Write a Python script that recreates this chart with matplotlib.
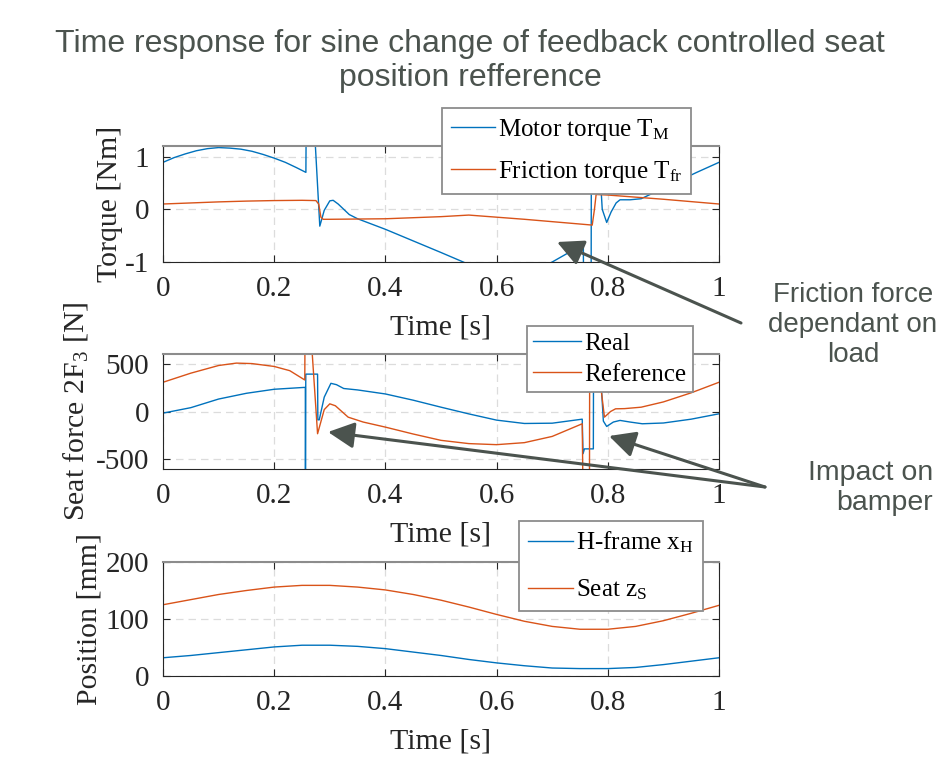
import matplotlib
matplotlib.use("Agg")
import matplotlib.pyplot as plt
from matplotlib.patches import FancyArrowPatch

W, H = 941, 760

# ---- data ----
x_ticks = [0, 0.2, 0.4, 0.6, 0.8, 1]
x_tick_labels = ["0", "0.2", "0.4", "0.6", "0.8", "1"]

# torque [Nm]
t_motor = [0, 0.02, 0.04, 0.06, 0.08, 0.10, 0.12, 0.14, 0.16, 0.18, 0.20, 0.22, 0.24, 0.257,
           0.2575, 0.272, 0.282, 0.290, 0.300, 0.306, 0.315, 0.325, 0.335, 0.35, 0.40, 0.45,
           0.50, 0.54, 0.56, 0.68, 0.70, 0.73, 0.756, 0.7565, 0.770, 0.7705, 0.781, 0.790,
           0.798, 0.806, 0.815, 0.822, 0.84, 0.86, 0.88, 0.90, 0.93, 0.96, 1.0]
motor_torque = [0.89, 0.98, 1.05, 1.11, 1.15, 1.17, 1.16, 1.14, 1.10, 1.04, 0.97, 0.89, 0.79, 0.70,
                1.6, 1.6, -0.32, -0.02, 0.16, 0.17, 0.10, 0.0, -0.10, -0.18, -0.38, -0.60,
                -0.82, -1.0, -1.1, -1.1, -1.0, -0.82, -0.65, -1.6, -1.6, 1.6, 1.6, 0.0,
                -0.25, -0.05, 0.12, 0.18, 0.18, 0.20, 0.30, 0.40, 0.55, 0.70, 0.89]
t_fric = [0, 0.05, 0.10, 0.15, 0.20, 0.25, 0.275, 0.280, 0.284, 0.288, 0.30, 0.40, 0.50, 0.55,
          0.60, 0.65, 0.70, 0.75, 0.772, 0.776, 0.779, 0.80, 0.85, 0.90, 0.95, 1.0]
friction_torque = [0.10, 0.12, 0.14, 0.155, 0.165, 0.17, 0.165, 0.10, -0.15, -0.19, -0.19, -0.18,
                   -0.14, -0.11, -0.15, -0.19, -0.235, -0.28, -0.30, 0.0, 0.28, 0.27, 0.23, 0.19,
                   0.145, 0.10]

# seat force 2F3 [N]
t_real = [0, 0.05, 0.10, 0.15, 0.20, 0.25, 0.256, 0.2562, 0.2568, 0.278, 0.2785, 0.281, 0.290,
          0.302, 0.312, 0.325, 0.35, 0.40, 0.45, 0.50, 0.55, 0.60, 0.65, 0.70, 0.754, 0.7555,
          0.758, 0.774, 0.7745, 0.782, 0.792, 0.798, 0.810, 0.822, 0.84, 0.862, 0.90, 0.95, 1.0]
force_real = [-17, 40, 130, 190, 232, 250, 252, -900, 390, 390, -87, -87, 150,
              294, 280, 240, 225, 183, 118, 45, -25, -90, -125, -122, -80, -440,
              -390, -390, 900, 900, -100, -156, -110, -93, -110, -128, -120, -80, -24]
t_ref = [0, 0.05, 0.10, 0.132, 0.16, 0.20, 0.228, 0.255, 0.2555, 0.265, 0.278, 0.29, 0.300,
         0.31, 0.333, 0.36, 0.40, 0.45, 0.50, 0.55, 0.60, 0.65, 0.70, 0.754, 0.7555, 0.767,
         0.7675, 0.774, 0.794, 0.805, 0.814, 0.83, 0.86, 0.90, 0.95, 1.0]
force_ref = [305, 400, 480, 505, 500, 470, 426, 329, 900, 900, -232, 20, 80,
             60, -59, -110, -163, -235, -301, -335, -346, -325, -260, -128, -900, -900,
             900, 900, -59, 0, 28, 30, 45, 100, 195, 305]

# position [mm]
t_pos = [0, 0.05, 0.10, 0.15, 0.20, 0.25, 0.30, 0.35, 0.40, 0.45, 0.50, 0.55, 0.60, 0.65,
         0.70, 0.75, 0.80, 0.85, 0.90, 0.95, 1.0]
pos_hframe = [32, 36, 41, 46, 51, 54, 54, 52, 48, 42, 36, 29, 23, 18, 14, 13, 13, 15, 20, 26, 32]
pos_seat = [125, 134, 143, 150, 156, 159, 159, 156, 151, 143, 133, 121, 108, 96, 87, 82, 82, 87,
            97, 110, 124]

BLUE = "#0072BD"
ORANGE = "#D95319"
NOTE = "#4b534e"

plt.rcParams["font.family"] = "Liberation Serif"
plt.rcParams["mathtext.fontset"] = "custom"
plt.rcParams["mathtext.rm"] = "Liberation Serif"
plt.rcParams["mathtext.it"] = "Liberation Serif:italic"
plt.rcParams["axes.unicode_minus"] = False


def fx(px):
    return px / W


def fy(py):
    return 1 - py / H


def style_axes(ax, ylim, yticks, ylabel, label_x):
    ax.set_xlim(0, 1)
    ax.set_ylim(*ylim)
    ax.set_xticks(x_ticks)
    ax.set_xticklabels(x_tick_labels)
    ax.set_yticks(yticks)
    ax.tick_params(direction="in", top=True, right=True, length=5, width=0.8,
                   labelsize=21, pad=10, color="#262626", labelcolor="#262626")
    ax.grid(True, color="#dcdcdc", linestyle=(0, (6, 4)), linewidth=0.9)
    for s in ["left", "bottom", "right"]:
        ax.spines[s].set_color("#262626")
        ax.spines[s].set_linewidth(0.8)
    ax.spines["top"].set_color("#8c8c8c")
    ax.spines["top"].set_linewidth(1.5)
    ax.set_xlabel("Time [s]", fontsize=21.5, color="#262626", labelpad=9)
    ax.set_ylabel(ylabel, fontsize=21.5, color="#262626")
    ax.yaxis.set_label_coords(label_x, 0.5)


def add_legend(ax, left, top, pad, spacing, hlen):
    leg = ax.legend(loc="upper left", bbox_to_anchor=(fx(left), fy(top)),
                    bbox_transform=ax.figure.transFigure, fontsize=18,
                    frameon=True, fancybox=False, framealpha=1, edgecolor="#8c8c8c",
                    borderaxespad=0, borderpad=pad, handlelength=hlen,
                    handletextpad=0.15, labelspacing=spacing)
    leg.get_frame().set_linewidth(1.3)
    return leg


fig = plt.figure(figsize=(W / 100, H / 100), dpi=100)

ax1 = fig.add_axes([fx(163), fy(262), 556 / W, 116 / H])
ax1.plot(t_motor, motor_torque, color=BLUE, lw=1.0, label=r"Motor torque $\mathregular{T_M}$")
ax1.plot(t_fric, friction_torque, color=ORANGE, lw=1.0, label=r"Friction torque $\mathregular{T_{fr}}$")
style_axes(ax1, (-1, 1.2), [-1, 0, 1], "Torque [Nm]", -0.072)
add_legend(ax1, 442, 108, 0.35, 0.65, 1.75)

ax2 = fig.add_axes([fx(163), fy(469), 556 / W, 115 / H])
ax2.plot(t_real, force_real, color=BLUE, lw=1.0, label="Real")
ax2.plot(t_ref, force_ref, color=ORANGE, lw=1.0, label="Reference")
style_axes(ax2, (-600, 600), [-500, 0, 500], r"Seat force 2F$\mathregular{_3}$ [N]", -0.131)
add_legend(ax2, 527, 326, 0.25, 0.35, 1.9)

ax3 = fig.add_axes([fx(163), fy(676), 556 / W, 114 / H])
ax3.plot(t_pos, pos_hframe, color=BLUE, lw=1.0, label=r"H-frame x$\mathregular{_H}$")
ax3.plot(t_pos, pos_seat, color=ORANGE, lw=1.0, label=r"Seat z$\mathregular{_S}$")
style_axes(ax3, (0, 200), [0, 100, 200], "Position [mm]", -0.108)
add_legend(ax3, 519, 521, 0.35, 0.9, 1.8)

# slide title
fig.text(fx(470), fy(61), "Time response for sine change of feedback controlled seat\nposition refference",
         ha="center", va="center", fontsize=23, family="Liberation Sans", color=NOTE,
         linespacing=1.15)

# callouts
fig.text(fx(853), fy(325), "Friction force\ndependant on\nload", ha="center", va="center",
         fontsize=20, family="Liberation Sans", color=NOTE, linespacing=1.2)
fig.text(fx(933), fy(488), "Impact on\nbamper", ha="right", va="center", multialignment="right",
         fontsize=20.5, family="Liberation Sans", color=NOTE, linespacing=1.2)

arrows = [((741, 323), (557, 242)), ((765, 487), (328, 432)), ((765, 487), (609, 436))]
for tail, head in arrows:
    fig.add_artist(FancyArrowPatch((fx(tail[0]), fy(tail[1])), (fx(head[0]), fy(head[1])),
                                   transform=fig.transFigure,
                                   arrowstyle="-|>,head_length=0.8,head_width=0.4",
                                   mutation_scale=20, lw=2.2, color=NOTE,
                                   shrinkA=0, shrinkB=0))

fig.savefig("out.png", dpi=100)
